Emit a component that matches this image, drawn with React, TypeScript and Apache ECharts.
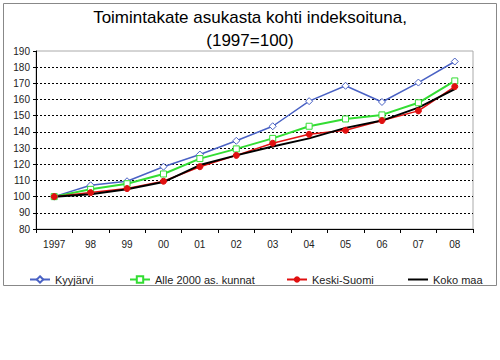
import React, { useEffect, useRef } from "react";
import * as echarts from "echarts";

const categories = ["1997", "98", "99", "00", "01", "02", "03", "04", "05", "06", "07", "08"];
const seriesNames = ["Kyyjärvi", "Alle 2000 as. kunnat", "Keski-Suomi", "Koko maa"];
const kyyjarvi = [100, 107, 109.5, 118.5, 126, 134.5, 143.5, 159, 168.5, 158.5, 170.5, 183.5];
const alle2000 = [100, 104.5, 108, 114, 123.5, 129.5, 136, 143.5, 148, 150.5, 158, 171.5];
const keskiSuomi = [100, 102.5, 105, 109.5, 118.5, 125.5, 133, 138.5, 141, 147, 153, 168];
const kokoMaa = [100, 101.5, 104.5, 109, 119.5, 125.5, 131, 136, 142.5, 147, 155, 166.5];
const titleLines = ["Toimintakate asukasta kohti indeksoituna,", "(1997=100)"];
const yMin = 80;
const yMax = 190;
const yStep = 10;

const FONT = "Liberation Sans, Arial, sans-serif";

export default function App() {
  const ref = useRef<HTMLDivElement>(null);
  useEffect(() => {
    document.body.style.margin = "0";
    const chart = echarts.init(ref.current!, null, { renderer: "svg" });
    const splitColors: string[] = [];
    for (let v = yMin; v <= yMax; v += yStep) splitColors.push(v === yMax ? "rgba(0,0,0,0)" : "#000");
    const legendText = { fontSize: 11, color: "#222", fontFamily: FONT };
    chart.setOption({
      animation: false,
      backgroundColor: "#fff",
      textStyle: { fontFamily: FONT },
      graphic: [
        {
          type: "rect",
          shape: { x: 3.5, y: 3.5, width: 493, height: 282 },
          style: { fill: "none", stroke: "#888", lineWidth: 1 },
          silent: true,
          z: -1,
        },
        ...titleLines.map((t, i) => ({
          type: "text",
          x: 250,
          y: 17 + i * 23,
          silent: true,
          style: {
            text: t,
            fontSize: 17,
            fontFamily: FONT,
            fill: "#000",
            textAlign: "center",
            textVerticalAlign: "middle",
          },
        })),
      ],
      grid: {
        left: 36,
        right: 27,
        top: 51,
        bottom: 131,
        show: true,
        borderColor: "#aaa",
        borderWidth: 1,
        backgroundColor: "#fff",
      },
      legend: seriesNames.map((n, i) => ({
        data: [n],
        left: [29, 129, 286, 407][i],
        top: 274,
        itemWidth: 20,
        itemHeight: 8,
        textStyle: legendText,
        padding: 0,
        ...(i === 3 ? { itemStyle: { opacity: 0 } } : {}),
      })),
      xAxis: {
        type: "category",
        data: categories,
        boundaryGap: true,
        axisLine: { lineStyle: { color: "#000", width: 1 } },
        axisTick: { show: true, interval: 0, length: 4, lineStyle: { color: "#000" } },
        axisLabel: { fontSize: 10, color: "#222", margin: 10, fontFamily: FONT, interval: 0 },
        splitLine: { show: false },
      },
      yAxis: {
        type: "value",
        min: yMin,
        max: yMax,
        interval: yStep,
        axisLine: { show: true, lineStyle: { color: "#000", width: 1 } },
        axisTick: { show: true, length: 3, lineStyle: { color: "#000" } },
        axisLabel: { fontSize: 10, color: "#222", margin: 6, fontFamily: FONT },
        splitLine: { show: true, lineStyle: { color: splitColors, type: [2, 2], width: 1 } },
      },
      series: [
        {
          name: seriesNames[0],
          type: "line",
          data: kyyjarvi,
          symbol: "diamond",
          symbolSize: 7,
          color: "#4a62c4",
          lineStyle: { color: "#4a62c4", width: 1.5 },
          itemStyle: { color: "#fff", borderColor: "#4a62c4", borderWidth: 1 },
        },
        {
          name: seriesNames[1],
          type: "line",
          data: alle2000,
          symbol: "rect",
          symbolSize: 6,
          color: "#33dd33",
          lineStyle: { color: "#33dd33", width: 2 },
          itemStyle: { color: "#fff", borderColor: "#33dd33", borderWidth: 1 },
        },
        {
          name: seriesNames[2],
          type: "line",
          data: keskiSuomi,
          symbol: "circle",
          symbolSize: 6,
          color: "#e01010",
          lineStyle: { color: "#e01010", width: 1.5 },
          itemStyle: { color: "#e01010", borderColor: "#e01010" },
        },
        {
          name: seriesNames[3],
          type: "line",
          data: kokoMaa,
          symbol: "none",
          showSymbol: false,
          color: "#000",
          lineStyle: { color: "#000", width: 2 },
          itemStyle: { color: "#000" },
        },
      ],
    });
    return () => chart.dispose();
  }, []);
  return <div ref={ref} style={{ width: 500, height: 360 }} />;
}
